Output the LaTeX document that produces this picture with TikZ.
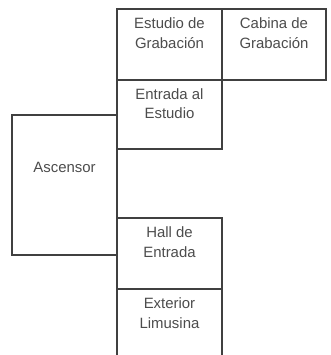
\documentclass[tikz,border=0pt]{standalone}
\usepackage{fontspec}
\setmainfont{Liberation Sans}
\begin{document}
\begin{tikzpicture}[
    x=0.75pt, y=-0.75pt,
    room/.style={rectangle, draw=black!75, line width=1.1pt, inner sep=0pt},
    roomtext/.style={anchor=north, align=center, text=black!70, inner sep=0pt,
        font=\fontsize{11.2}{14.6}\selectfont}
]
\useasboundingbox (0,0) rectangle (330,355);
\clip (0,0) rectangle (330,355);

\node[room, minimum width=78.75pt, minimum height=53.25pt,
    label={[roomtext, yshift=-7pt]north:{Estudio de\\Grabación}}](est) at (169.5, 44.5) {};
\node[room, minimum width=78pt, minimum height=53.25pt,
    label={[roomtext, yshift=-7pt]north:{Cabina de\\Grabación}}](cab) at (274, 44.5) {};
\node[room, minimum width=78.75pt, minimum height=51.75pt,
    label={[roomtext, yshift=-6.5pt]north:{Entrada al\\Estudio}}](ent) at (169.5, 114.5) {};
\node[room, minimum width=78.75pt, minimum height=105pt,
    label={[roomtext, anchor=center, yshift=13pt]center:{Ascensor}}](asc) at (64.5, 185) {};
\node[room, minimum width=78.75pt, minimum height=53.25pt,
    label={[roomtext, yshift=-7pt]north:{Hall de\\Entrada}}](hall) at (169.5, 253.5) {};
\node[room, minimum width=78.75pt, minimum height=53.25pt,
    label={[roomtext, yshift=-7pt]north:{Exterior\\Limusina}}](ext) at (169.5, 324.5) {};
\end{tikzpicture}
\end{document}
